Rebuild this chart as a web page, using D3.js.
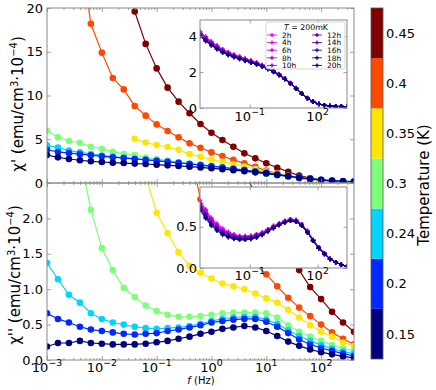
<!DOCTYPE html>
<html><head><meta charset="utf-8">
<script src="https://cdn.jsdelivr.net/npm/d3@7"></script>
<style>body{margin:0;background:#fff} text{font-family:"DejaVu Sans",sans-serif;fill:#000}</style>
</head><body><svg id="c" width="436" height="390"></svg>
<script>
// ---------------- DATA ----------------
const temps = ["0.15","0.2","0.24","0.3","0.35","0.4","0.45"];
const tempColors = ["#00007f","#0028ff","#00d4ff","#7dff7a","#ffe600","#ff4800","#7f0000"];
// log10 of frequency (Hz)
const logFreq = [-3,-2.8,-2.6,-2.4,-2.2,-2,-1.8,-1.6,-1.4,-1.2,-1,-0.8,-0.6,-0.4,-0.2,0,0.2,0.4,0.6,0.8,1,1.2,1.4,1.6,1.8,2,2.2,2.4,2.6];
const _ = null;
// chi' (emu/cm3 1e-4)
const chi1_015 = [3.2,2.93,2.74,2.6,2.48,2.4,2.32,2.28,2.22,2.17,2.1,2.02,1.95,1.87,1.78,1.68,1.58,1.47,1.35,1.22,1.08,0.92,0.76,0.6,0.46,0.34,0.25,0.19,0.15];
const chi1_02  = [3.8,3.55,3.42,3.3,3.18,3.05,2.95,2.85,2.75,2.65,2.55,2.42,2.3,2.18,2.05,1.92,1.78,1.63,1.48,1.32,1.16,0.98,0.8,0.63,0.48,0.36,0.27,0.2,0.16];
const chi1_024 = [4.3,4.05,3.7,3.5,3.32,3.15,3.02,2.9,2.78,2.66,2.55,2.43,2.32,2.2,2.07,1.94,1.8,1.65,1.5,1.34,1.17,0.99,0.81,0.64,0.49,0.37,0.28,0.21,0.17];
const chi1_03  = [6.0,5.22,4.8,4.6,4.15,3.9,3.58,3.32,3.2,2.92,2.75,2.58,2.38,2.2,2.0,1.85,1.72,1.56,1.4,1.22,1.04,0.87,0.7,0.55,0.42,0.32,0.25,0.2,0.16];
const chi1_035 = [_,_,_,_,_,_,_,_,5.05,4.62,4.34,4.12,3.8,3.3,3.0,2.68,2.42,2.15,1.88,1.6,1.32,1.05,0.8,0.56,0.38,0.26,0.19,0.14,0.11];
const chi1_04  = [_,_,_,27,18.2,14.9,12.0,10.7,8.8,7.7,6.7,5.94,5.22,4.53,4.03,3.5,3.08,2.65,2.25,1.85,1.42,1.1,0.82,0.55,0.36,0.24,0.16,0.11,0.08];
const chi1_045 = [_,_,_,_,_,_,_,_,19.6,15.9,13.1,10.9,9.3,7.97,6.74,5.75,4.91,4.15,3.39,2.82,2.25,1.75,1.29,0.84,0.55,0.35,0.2,0.12,0.09];
// chi'' (emu/cm3 1e-4)
const chi2_015 = [0.19,0.24,0.24,0.27,0.24,0.23,0.22,0.22,0.22,0.23,0.25,0.27,0.3,0.33,0.37,0.4,0.44,0.46,0.48,0.46,0.41,0.34,0.26,0.2,0.15,0.11,0.08,0.05,0.03];
const chi2_02  = [0.66,0.58,0.53,0.47,0.43,0.41,0.39,0.37,0.36,0.37,0.38,0.41,0.43,0.46,0.49,0.53,0.55,0.57,0.58,0.58,0.54,0.47,0.38,0.29,0.22,0.17,0.13,0.09,0.06];
const chi2_024 = [1.37,1.14,0.92,0.81,0.66,0.58,0.53,0.5,0.47,0.45,0.44,0.45,0.46,0.48,0.51,0.55,0.58,0.6,0.61,0.61,0.57,0.51,0.42,0.34,0.27,0.21,0.16,0.12,0.09];
const chi2_03  = [_,_,_,2.9,2.12,1.58,1.27,1.02,0.89,0.77,0.69,0.64,0.61,0.61,0.62,0.64,0.66,0.67,0.67,0.67,0.66,0.6,0.49,0.4,0.33,0.27,0.21,0.16,0.13];
const chi2_035 = [_,_,_,_,_,_,_,_,3.2,2.6,2.08,1.79,1.52,1.33,1.23,1.15,1.08,1.04,1.0,0.94,0.87,0.81,0.71,0.6,0.49,0.4,0.33,0.25,0.2];
const chi2_04  = [_,_,_,_,_,_,_,_,_,_,_,_,_,3.0,2.27,2.02,1.82,1.65,1.5,1.35,1.21,1.04,0.88,0.74,0.62,0.5,0.39,0.3,0.22];
const chi2_045 = [_,_,_,_,_,_,_,_,_,_,_,_,_,_,_,_,_,_,2.63,2.36,2.09,1.82,1.55,1.27,1.03,0.86,0.68,0.53,0.4];
const chi1Series = [chi1_015,chi1_02,chi1_024,chi1_03,chi1_035,chi1_04,chi1_045];
const chi2Series = [chi2_015,chi2_02,chi2_024,chi2_03,chi2_035,chi2_04,chi2_045];
const xTickExp = [-3,-2,-1,0,1,2];
const yTopTicks = [0,5,10,15,20];
const yBotTicks = [0,0.5,1.0,1.5,2.0];

// insets: T = 200 mK, ageing times
const agingLabels = ["2h","4h","6h","8h","10h","12h","14h","16h","18h","20h"];
const agingColors = ["#ff00ff","#e300f1","#c600e3","#aa00d5","#8e00c7","#7100b8","#5500aa","#39009c","#1c008e","#000080"];
const insetLogF = [-3.2,-2.95,-2.7,-2.45,-2.2,-1.95,-1.7,-1.45,-1.2,-0.95,-0.7,-0.45,-0.2,0.05,0.3,0.55,0.8,1.05,1.3,1.55,1.8,2.05,2.3,2.55,2.8,3.05,3.3];
const in1_2h  = [4.28,3.98,3.72,3.49,3.28,3.12,2.98,2.87,2.76,2.65,2.54,2.40,2.25,2.08,1.89,1.66,1.40,1.11,0.82,0.56,0.36,0.22,0.15,0.11,0.09,0.08,0.07];
const in1_4h  = [4.25,3.95,3.69,3.47,3.26,3.10,2.96,2.85,2.74,2.64,2.53,2.39,2.24,2.07,1.88,1.65,1.39,1.11,0.82,0.56,0.36,0.22,0.15,0.11,0.09,0.08,0.07];
const in1_6h  = [4.22,3.92,3.67,3.44,3.24,3.08,2.94,2.84,2.73,2.62,2.51,2.38,2.23,2.06,1.87,1.65,1.39,1.10,0.81,0.56,0.36,0.22,0.15,0.11,0.09,0.08,0.07];
const in1_8h  = [4.19,3.89,3.64,3.42,3.21,3.06,2.93,2.82,2.71,2.61,2.50,2.37,2.22,2.05,1.87,1.64,1.38,1.10,0.81,0.55,0.36,0.22,0.15,0.11,0.09,0.08,0.07];
const in1_10h = [4.16,3.87,3.61,3.39,3.19,3.04,2.91,2.80,2.70,2.59,2.49,2.36,2.21,2.04,1.86,1.63,1.38,1.09,0.81,0.55,0.36,0.22,0.15,0.11,0.09,0.08,0.07];
const in1_12h = [4.12,3.83,3.59,3.37,3.17,3.02,2.89,2.79,2.68,2.58,2.47,2.34,2.20,2.04,1.85,1.63,1.37,1.09,0.80,0.55,0.35,0.22,0.15,0.11,0.09,0.08,0.07];
const in1_14h = [4.09,3.81,3.56,3.34,3.15,3.00,2.87,2.77,2.67,2.56,2.46,2.33,2.19,2.03,1.84,1.62,1.37,1.08,0.80,0.55,0.35,0.22,0.15,0.11,0.09,0.08,0.07];
const in1_16h = [4.06,3.78,3.53,3.32,3.12,2.98,2.86,2.75,2.65,2.55,2.45,2.32,2.18,2.02,1.84,1.61,1.36,1.08,0.80,0.54,0.35,0.22,0.15,0.11,0.09,0.08,0.07];
const in1_18h = [4.03,3.75,3.51,3.29,3.10,2.96,2.84,2.74,2.64,2.53,2.43,2.31,2.17,2.01,1.83,1.61,1.36,1.07,0.79,0.54,0.35,0.22,0.15,0.11,0.09,0.08,0.07];
const in1_20h = [4.00,3.72,3.48,3.27,3.08,2.94,2.82,2.72,2.62,2.52,2.42,2.30,2.16,2.00,1.82,1.60,1.35,1.07,0.79,0.54,0.35,0.22,0.15,0.11,0.09,0.08,0.07];
const in2_2h  = [0.82,0.71,0.61,0.54,0.48,0.44,0.41,0.39,0.39,0.39,0.41,0.43,0.47,0.51,0.54,0.57,0.59,0.58,0.53,0.45,0.34,0.25,0.18,0.11,0.07,0.04,0.02];
const in2_4h  = [0.81,0.70,0.60,0.53,0.47,0.43,0.40,0.38,0.38,0.39,0.41,0.43,0.47,0.51,0.54,0.57,0.59,0.58,0.53,0.45,0.34,0.25,0.18,0.11,0.07,0.04,0.02];
const in2_6h  = [0.79,0.69,0.59,0.52,0.46,0.42,0.40,0.38,0.38,0.38,0.40,0.42,0.46,0.50,0.54,0.57,0.59,0.58,0.53,0.45,0.34,0.25,0.18,0.11,0.07,0.04,0.02];
const in2_8h  = [0.78,0.67,0.58,0.51,0.45,0.42,0.39,0.37,0.37,0.38,0.40,0.42,0.46,0.50,0.53,0.56,0.58,0.57,0.52,0.44,0.34,0.25,0.18,0.11,0.07,0.04,0.02];
const in2_10h = [0.77,0.66,0.57,0.50,0.44,0.41,0.38,0.37,0.37,0.37,0.39,0.42,0.46,0.50,0.53,0.56,0.58,0.57,0.52,0.44,0.34,0.25,0.18,0.11,0.07,0.04,0.02];
const in2_12h = [0.75,0.65,0.55,0.49,0.44,0.40,0.38,0.36,0.36,0.37,0.39,0.41,0.45,0.49,0.53,0.56,0.58,0.57,0.52,0.44,0.33,0.24,0.17,0.11,0.07,0.04,0.02];
const in2_14h = [0.74,0.64,0.54,0.48,0.43,0.39,0.37,0.36,0.36,0.36,0.38,0.41,0.45,0.49,0.53,0.56,0.58,0.57,0.52,0.44,0.33,0.24,0.17,0.11,0.07,0.04,0.02];
const in2_16h = [0.73,0.62,0.53,0.47,0.42,0.39,0.36,0.35,0.35,0.36,0.38,0.41,0.45,0.49,0.52,0.55,0.57,0.56,0.51,0.43,0.33,0.24,0.17,0.11,0.07,0.04,0.02];
const in2_18h = [0.71,0.61,0.52,0.46,0.41,0.38,0.36,0.35,0.35,0.35,0.37,0.40,0.44,0.48,0.52,0.55,0.57,0.56,0.51,0.43,0.33,0.24,0.17,0.11,0.07,0.04,0.02];
const in2_20h = [0.70,0.60,0.51,0.45,0.40,0.37,0.35,0.34,0.34,0.35,0.37,0.40,0.44,0.48,0.52,0.55,0.57,0.56,0.51,0.43,0.33,0.24,0.17,0.11,0.07,0.04,0.02];
const inset1Series = [in1_2h,in1_4h,in1_6h,in1_8h,in1_10h,in1_12h,in1_14h,in1_16h,in1_18h,in1_20h];
const inset2Series = [in2_2h,in2_4h,in2_6h,in2_8h,in2_10h,in2_12h,in2_14h,in2_16h,in2_18h,in2_20h];
const inset1YTicks = [0,2,4];
const inset2YTicks = [0,0.5];
const insetXTickExp = [-1,2];

// ---------------- DRAW ----------------
const svg = d3.select("#c");
const SP = "#888";
const L = 47, R = 354, T = 8, M = 183, B = 360;
const x = d3.scaleLog().domain([1e-3, Math.pow(10, 2.6)]).range([L, R]);
const yTop = d3.scaleLinear().domain([0, 20]).range([M, T]);
const yBot = d3.scaleLinear().domain([0, 2.5]).range([B, M]);
const minus = e => (e < 0 ? "\u2212" + Math.abs(e) : "" + e);

const defs = svg.append("defs");
function clip(id, x0, y0, w, h) {
  defs.append("clipPath").attr("id", id).append("rect").attr("x", x0).attr("y", y0).attr("width", w).attr("height", h);
}
clip("cTop", L, T, R - L, M - T);
clip("cBot", L, M, R - L, B - M);

function supLabel(g, px, py, exp, size, anchor) {
  const t = g.append("text").attr("x", px).attr("y", py).attr("text-anchor", anchor || "middle").attr("font-size", size);
  t.append("tspan").text("10");
  t.append("tspan").attr("dy", -size * 0.45).attr("font-size", size * 0.72).text(minus(exp));
}

function ticks(g, axisFn, scale, tx, ty, values, size) {
  const a = axisFn(scale).tickValues(values).tickSize(-size).tickFormat("");
  const s = g.append("g").attr("transform", `translate(${tx},${ty})`).call(a);
  s.select(".domain").remove();
  s.selectAll("line").attr("stroke", SP).attr("stroke-width", 0.8);
}

const xMajor = xTickExp.map(e => Math.pow(10, e));
const xMinor = x.ticks().filter(v => Math.abs(Math.log10(v) - Math.round(Math.log10(v))) > 1e-6);

function drawPanel(series, yScale, clipId, yTicks, yFmt) {
  const g = svg.append("g");
  const data = g.append("g").attr("clip-path", `url(#${clipId})`);
  for (let s = series.length - 1; s >= 0; s--) {
    const pts = series[s].map((v, i) => ({ f: Math.pow(10, logFreq[i]), v })).filter(d => d.v != null);
    data.append("path").datum(pts)
      .attr("d", d3.line().x(d => x(d.f)).y(d => yScale(d.v)))
      .attr("fill", "none").attr("stroke", tempColors[s]).attr("stroke-width", 1.2);
    data.selectAll(null).data(pts).enter().append("circle")
      .attr("cx", d => x(d.f)).attr("cy", d => yScale(d.v)).attr("r", 3.3)
      .attr("fill", tempColors[s]);
  }
  const [y0, y1] = yScale.range();
  ticks(g, d3.axisBottom, x, 0, y0, xMajor, 4);
  ticks(g, d3.axisBottom, x, 0, y0, xMinor, 2);
  ticks(g, d3.axisTop, x, 0, y1, xMajor, 4);
  ticks(g, d3.axisTop, x, 0, y1, xMinor, 2);
  ticks(g, d3.axisLeft, yScale, L, 0, yTicks, 4);
  ticks(g, d3.axisRight, yScale, R, 0, yTicks, 4);
  g.append("rect").attr("x", L).attr("y", y1).attr("width", R - L).attr("height", y0 - y1)
    .attr("fill", "none").attr("stroke", SP).attr("stroke-width", 1);
  g.selectAll(null).data(yTicks).enter().append("text")
    .attr("x", L - 4).attr("y", d => yScale(d)).attr("dy", "0.36em")
    .attr("text-anchor", "end").attr("font-size", 13).text(yFmt);
  return g;
}

drawPanel(chi1Series, yTop, "cTop", yTopTicks, d => d3.format("d")(d));
const gb = drawPanel(chi2Series, yBot, "cBot", yBotTicks, d => d3.format(".1f")(d));
xTickExp.forEach(e => supLabel(gb, x(Math.pow(10, e)), 372, e, 13));

// x label
const xl = svg.append("text").attr("x", 201).attr("y", 384).attr("text-anchor", "middle").attr("font-size", 10);
xl.append("tspan").attr("font-style", "italic").text("f");
xl.append("tspan").text(" (Hz)");

// y labels
function yLabel(bx, cy, prime) {
  const t = svg.append("text").attr("transform", `translate(${bx},${cy}) rotate(-90)`)
    .attr("text-anchor", "middle").attr("font-size", 15);
  t.append("tspan").text("\u03c7" + prime + " (emu/cm");
  t.append("tspan").attr("dy", -5).attr("font-size", 10).text("3");
  t.append("tspan").attr("dy", 5).text("\u00b710");
  t.append("tspan").attr("dy", -6).attr("font-size", 10).text("\u22124");
  t.append("tspan").attr("dy", 6).text(")");
}
yLabel(23, 104, "'");
yLabel(20, 275, "''");

// ---------------- INSETS ----------------
const xi = d3.scaleLog().domain([Math.pow(10, -3.2), Math.pow(10, 3.3)]).range([200, 347]);
function drawInset(series, yScale, yTicks, yFmt, labelY) {
  const g = svg.append("g");
  const [y0, y1] = yScale.range();
  g.append("rect").attr("x", 200).attr("y", y1).attr("width", 147).attr("height", y0 - y1).attr("fill", "#fff");
  const id = "ci" + labelY;
  clip(id, 200, y1, 147, y0 - y1);
  const d = g.append("g").attr("clip-path", `url(#${id})`);
  series.forEach((arr, s) => {
    const pts = arr.map((v, i) => ({ f: Math.pow(10, insetLogF[i]), v }));
    d.append("path").datum(pts)
      .attr("d", d3.line().x(p => xi(p.f)).y(p => yScale(p.v)))
      .attr("fill", "none").attr("stroke", agingColors[s]).attr("stroke-width", 1).attr("opacity", 0.85);
    d.selectAll(null).data(pts).enter().append("path")
      .attr("transform", p => `translate(${xi(p.f)},${yScale(p.v)})`)
      .attr("d", d3.symbol(d3.symbolCross, 11)).attr("fill", agingColors[s]).attr("opacity", 0.85);
  });
  const xm = insetXTickExp.map(e => Math.pow(10, e));
  ticks(g, d3.axisBottom, xi, 0, y0, xm, 3.5);
  ticks(g, d3.axisTop, xi, 0, y1, xm, 3.5);
  ticks(g, d3.axisLeft, yScale, 200, 0, yTicks, 3.5);
  ticks(g, d3.axisRight, yScale, 347, 0, yTicks, 3.5);
  g.append("rect").attr("x", 200).attr("y", y1).attr("width", 147).attr("height", y0 - y1)
    .attr("fill", "none").attr("stroke", SP).attr("stroke-width", 1);
  g.selectAll(null).data(yTicks).enter().append("text")
    .attr("x", 197).attr("y", v => yScale(v)).attr("dy", "0.36em")
    .attr("text-anchor", "end").attr("font-size", 13).text(yFmt);
  insetXTickExp.forEach(e => supLabel(g, xi(Math.pow(10, e)), labelY, e, 13));
  return g;
}
const yi1 = d3.scaleLinear().domain([0, 4.9]).range([108, 20]);
const yi2 = d3.scaleLinear().domain([0, 0.98]).range([268, 187]);
const gi1 = drawInset(inset1Series, yi1, inset1YTicks, v => d3.format("d")(v), 121);
drawInset(inset2Series, yi2, inset2YTicks, v => d3.format(".1f")(v), 280);

// legend in inset 1
const lg = gi1.append("g");
lg.append("rect").attr("x", 266).attr("y", 22).attr("width", 79).attr("height", 47).attr("rx", 2)
  .attr("fill", "#fff").attr("fill-opacity", 0.85).attr("stroke", "#ccc").attr("stroke-width", 0.8);
const lt = lg.append("text").attr("x", 306).attr("y", 30).attr("text-anchor", "middle").attr("font-size", 7.8);
lt.append("tspan").attr("font-style", "italic").text("T");
lt.append("tspan").text(" = 200mK");
agingLabels.forEach((lab, i) => {
  const col = Math.floor(i / 5), row = i % 5;
  const mx = col === 0 ? 272 : 317, cy = 35 + row * 7.6;
  lg.append("line").attr("x1", mx - 5).attr("x2", mx + 5).attr("y1", cy).attr("y2", cy)
    .attr("stroke", agingColors[i]).attr("stroke-width", 1).attr("opacity", 0.85);
  lg.append("path").attr("transform", `translate(${mx},${cy})`)
    .attr("d", d3.symbol(d3.symbolCross, 9)).attr("fill", agingColors[i]);
  lg.append("text").attr("x", col === 0 ? 282 : 327).attr("y", cy + 2.7).attr("font-size", 7.4).text(lab);
});

// ---------------- COLORBAR ----------------
const cbY = d3.scaleBand().domain(temps.slice().reverse()).range([8, 359]).paddingInner(0);
const cb = svg.append("g");
cb.selectAll(null).data(temps).enter().append("rect")
  .attr("x", 371).attr("width", 12).attr("y", t => cbY(t)).attr("height", cbY.bandwidth())
  .attr("fill", (t, i) => tempColors[i]);
cb.append("rect").attr("x", 371).attr("y", 8).attr("width", 12).attr("height", 351)
  .attr("fill", "none").attr("stroke", "#555").attr("stroke-width", 0.8);
cb.selectAll(null).data(temps).enter().append("text")
  .attr("x", 386).attr("y", t => cbY(t) + cbY.bandwidth() / 2).attr("dy", "0.36em")
  .attr("font-size", 13).text(t => t);
svg.append("text").attr("transform", "translate(429,185) rotate(-90)").attr("text-anchor", "middle")
  .attr("font-size", 15).text("Temperature (K)");
</script></body></html>
